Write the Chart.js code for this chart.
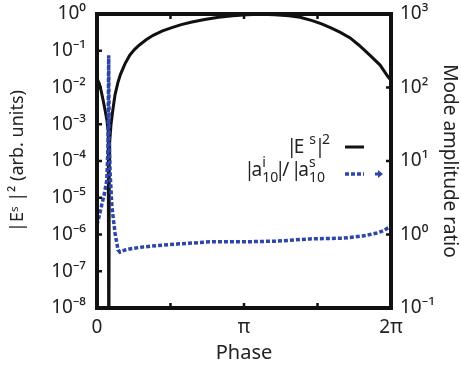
<!DOCTYPE html>
<html>
<head>
<meta charset="utf-8">
<script src="https://cdn.jsdelivr.net/npm/chart.js@4.4.1/dist/chart.umd.min.js"></script>
<style>
html,body{margin:0;padding:0;background:#fff;}
#wrap{width:461px;height:374px;}
</style>
</head>
<body>
<div id="wrap"><canvas id="myChart" width="461" height="374"></canvas></div>
<script>
var fieldPhase = [0, 0.05, 0.09, 0.13, 0.17, 0.21, 0.24, 0.25, 0.256, 0.262,
  0.27, 0.3, 0.34, 0.385, 0.45, 0.5, 0.6, 0.7, 0.8, 0.9,
  1.05, 1.2, 1.4, 1.6, 1.8, 2.03, 2.3, 2.6, 2.9, 3.2,
  3.5, 3.8, 4.1, 4.34, 4.6, 4.8, 5.0, 5.2, 5.41, 5.6,
  5.83, 6.05, 6.22, 6.283];
var fieldExp = [-1.75, -1.9, -2.1, -2.34, -2.6, -2.88, -3.2, -4.0, -10, -4.0,
  -3.5, -3.0, -2.6, -2.2, -1.85, -1.65, -1.35, -1.12, -0.97, -0.85,
  -0.7, -0.58, -0.46, -0.37, -0.29, -0.22, -0.15, -0.09, -0.05, -0.02,
  -0.01, -0.02, -0.05, -0.09, -0.18, -0.27, -0.38, -0.5, -0.65, -0.85,
  -1.12, -1.39, -1.71, -1.8];

var ratioPhase = [0, 0.05, 0.1, 0.15, 0.21, 0.235, 0.25, 0.26, 0.28, 0.32,
  0.385, 0.45, 0.49, 0.6, 0.75, 0.98, 1.3, 1.71, 2.41, 3.12,
  3.85, 4.55, 5.26, 5.68, 5.98, 6.12, 6.22, 6.283];
var ratioExp = [0.13, 0.26, 0.40, 0.53, 0.74, 1.2, 2.44, 1.3, 0.84, 0.37,
  0.02, -0.21, -0.24, -0.21, -0.19, -0.17, -0.15, -0.13, -0.10, -0.10,
  -0.09, -0.06, -0.05, -0.02, 0.02, 0.05, 0.09, 0.11];

var phaseTicks = [0, Math.PI/2, Math.PI, 3*Math.PI/2, 2*Math.PI];
var phaseLabels = ["0", "", "π", "", "2π"];
var leftTicks = [1, 1e-1, 1e-2, 1e-3, 1e-4, 1e-5, 1e-6, 1e-7, 1e-8];
var leftLabels = ["10⁰", "10⁻¹", "10⁻²", "10⁻³", "10⁻⁴", "10⁻⁵", "10⁻⁶", "10⁻⁷", "10⁻⁸"];
var rightTicks = [1000, 100, 10, 1, 0.1];
var rightLabels = ["10³", "10²", "10¹", "10⁰", "10⁻¹"];

var FONT = "'Noto Sans', 'Open Sans', sans-serif";
var TXT = "#222";
var BLUE = "#2d46a8";

function pts(xs, es){ return xs.map(function(x, i){ return {x: x, y: Math.pow(10, es[i])}; }); }

// rich legend text: t = normal text, w = forced advance, sup/sub = small text, gap = blank
function partWidth(ctx, p){
  if (p.gap) return p.gap;
  if (p.w) return p.w;
  if (p.t){ ctx.font = "19px " + FONT; return ctx.measureText(p.t).width; }
  ctx.font = "14px " + FONT;
  return Math.max(ctx.measureText(p.sup || "").width, ctx.measureText(p.sub || "").width);
}
function drawRich(ctx, parts, xr, base){
  var total = 0;
  parts.forEach(function(p){ total += partWidth(ctx, p); });
  var x = xr - total;
  ctx.textBaseline = "alphabetic"; ctx.fillStyle = TXT;
  parts.forEach(function(p){
    var w = partWidth(ctx, p);
    if (p.t){
      ctx.font = "19px " + FONT;
      if (p.w){ ctx.textAlign = "center"; ctx.fillText(p.t, x + w/2, base); }
      else { ctx.textAlign = "left"; ctx.fillText(p.t, x, base); }
    } else if (!p.gap){
      ctx.font = "14px " + FONT; ctx.textAlign = "left";
      if (p.sup) ctx.fillText(p.sup, x, base - 9);
      if (p.sub) ctx.fillText(p.sub, x, base + 6);
    }
    x += w;
  });
}

var framePlugin = {
  id: "frame",
  afterDatasetsDraw: function(chart){
    var ctx = chart.ctx, a = chart.chartArea, s = chart.scales;
    ctx.save();
    ctx.strokeStyle = "#111"; ctx.lineWidth = 4;
    ctx.strokeRect(a.left, a.top, a.right - a.left, a.bottom - a.top);
    ctx.lineWidth = 2.5;
    ctx.beginPath();
    leftTicks.slice(1, -1).forEach(function(v){ var y = s.y.getPixelForValue(v); ctx.moveTo(a.left, y); ctx.lineTo(a.left + 5, y); });
    rightTicks.slice(1, -1).forEach(function(v){ var y = s.y2.getPixelForValue(v); ctx.moveTo(a.right, y); ctx.lineTo(a.right - 5, y); });
    phaseTicks.slice(1, -1).forEach(function(v){ var x = s.x.getPixelForValue(v); ctx.moveTo(x, a.bottom); ctx.lineTo(x, a.bottom - 5); ctx.moveTo(x, a.top); ctx.lineTo(x, a.top + 5); });
    ctx.stroke();

    // legend
    var lx = a.right - 46;
    drawRich(ctx, [{t: "|", w: 4}, {t: "E"}, {gap: 5}, {sup: "s"}, {gap: 2}, {t: "|", w: 4}, {sup: "2"}], a.right - 61, 153);
    drawRich(ctx, [{t: "|", w: 4}, {t: "a"}, {sup: "i", sub: "10"}, {t: "|", w: 4}, {t: "/"}, {gap: 5}, {t: "|", w: 4}, {t: "a"}, {sup: "s", sub: "10"}], a.right - 66, 176);
    ctx.strokeStyle = "#111"; ctx.lineWidth = 3;
    ctx.beginPath(); ctx.moveTo(lx, 147); ctx.lineTo(lx + 19, 147); ctx.stroke();
    ctx.strokeStyle = BLUE; ctx.lineWidth = 3.5; ctx.setLineDash([4, 2]);
    ctx.beginPath(); ctx.moveTo(lx, 174); ctx.lineTo(lx + 19, 174); ctx.stroke();
    ctx.setLineDash([]);
    ctx.fillStyle = BLUE;
    ctx.fillRect(lx + 30, 172.5, 5, 3);
    ctx.beginPath(); ctx.moveTo(lx + 33, 170); ctx.lineTo(lx + 38, 174); ctx.lineTo(lx + 33, 178); ctx.closePath(); ctx.fill();
    ctx.restore();
  }
};

function noPadY(sc, w){ sc.width = w; sc.paddingTop = 0; sc.paddingBottom = 0; }

new Chart("myChart", {
  type: "line",
  data: {
    datasets: [
      {
        label: "ratio",
        data: pts(ratioPhase, ratioExp),
        yAxisID: "y2",
        borderColor: BLUE,
        borderWidth: 3.5,
        borderDash: [4, 2],
        pointRadius: 0,
        tension: 0,
        order: 0
      },
      {
        label: "field",
        data: pts(fieldPhase, fieldExp),
        yAxisID: "y",
        borderColor: "#111",
        borderWidth: 3,
        pointRadius: 0,
        tension: 0,
        order: 1
      }
    ]
  },
  options: {
    responsive: false,
    animation: false,
    layout: {padding: {top: 14, left: 0, right: 0, bottom: 0}},
    plugins: {legend: {display: false}, tooltip: {enabled: false}},
    scales: {
      x: {
        type: "linear", min: 0, max: 2*Math.PI,
        grid: {display: false, drawTicks: false}, border: {display: false},
        afterBuildTicks: function(sc){ sc.ticks = phaseTicks.map(function(v){ return {value: v}; }); },
        afterFit: function(sc){ sc.height = 66; sc.paddingLeft = 0; sc.paddingRight = 0; },
        ticks: {autoSkip: false, maxRotation: 0, padding: 8, color: TXT, font: {family: FONT, size: 19},
          callback: function(v, i){ return phaseLabels[i]; }},
        title: {display: true, text: "Phase", color: TXT, font: {family: FONT, size: 20}, padding: {top: 9, bottom: 9}}
      },
      y: {
        type: "logarithmic", position: "left", min: 1e-8, max: 1,
        grid: {display: false, drawTicks: false}, border: {display: false},
        afterBuildTicks: function(sc){ sc.ticks = leftTicks.map(function(v){ return {value: v}; }); },
        afterFit: function(sc){ noPadY(sc, 97); },
        ticks: {autoSkip: false, padding: 11, color: TXT, font: {family: FONT, size: 19},
          callback: function(v, i){ return leftLabels[i]; }},
        title: {display: true, text: "|Eˢ |² (arb. units)", color: TXT, font: {family: FONT, size: 18}, padding: {top: 7, bottom: 0}}
      },
      y2: {
        type: "logarithmic", position: "right", min: 0.1, max: 1000,
        grid: {display: false, drawTicks: false}, border: {display: false},
        afterBuildTicks: function(sc){ sc.ticks = rightTicks.map(function(v){ return {value: v}; }); },
        afterFit: function(sc){ noPadY(sc, 70); },
        ticks: {autoSkip: false, padding: 9, color: TXT, font: {family: FONT, size: 19},
          callback: function(v, i){ return rightLabels[i]; }},
        title: {display: true, text: "Mode amplitude ratio", color: TXT, font: {family: FONT, size: 19}, padding: {top: 0, bottom: 0}}
      }
    }
  },
  plugins: [framePlugin]
});
</script>
</body>
</html>
